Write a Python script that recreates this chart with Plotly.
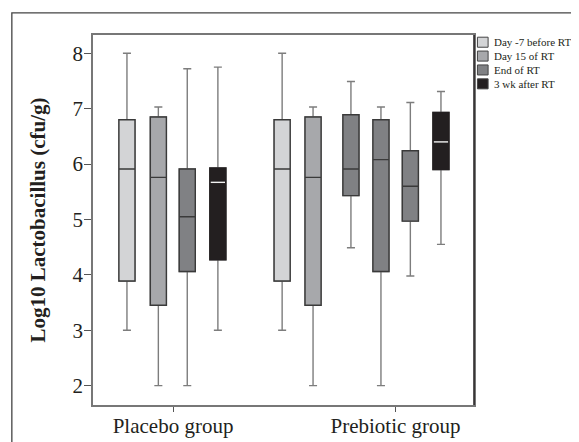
import plotly.graph_objects as go

# ---- data ----
group_labels = ["Placebo group", "Prebiotic group"]
phase_names = ["Day -7 before RT", "Day 15 of RT", "End of RT", "3 wk after RT"]

# one entry per box, in drawing order
box_group = [0, 0, 0, 0, 1, 1, 1, 1, 1, 1]
box_phase = [0, 1, 2, 3, 0, 1, 2, 2, 2, 3]
upper_whisker = [8.00, 7.03, 7.72, 7.75, 8.00, 7.03, 7.49, 7.03, 7.11, 7.31]
q3_values     = [6.80, 6.85, 5.91, 5.93, 6.80, 6.85, 6.89, 6.80, 6.24, 6.93]
median_values = [5.91, 5.76, 5.05, 5.67, 5.91, 5.76, 5.91, 6.08, 5.60, 6.40]
q1_values     = [3.89, 3.45, 4.06, 4.27, 3.89, 3.45, 5.43, 4.06, 4.97, 5.90]
lower_whisker = [3.00, 2.00, 2.00, 3.00, 3.00, 2.00, 4.49, 2.00, 3.98, 4.55]

y_ticks = [2, 3, 4, 5, 6, 7, 8]

# ---- layout / style constants ----
BOX_SLOTS = [0.0, 1.036, 1.99, 3.0, 5.12, 6.14, 7.39, 8.38, 9.35, 10.36]
GROUP_TICK_POS = [1.52, 8.86]
BOX_W = 0.53
fills = ["#d3d4d6", "#a7a8ab", "#808184", "#231f20"]
outline = ["#3a3a3a", "#3a3a3a", "#3a3a3a", "#231f20"]
whisker_col = "#7d7d7d"
FONT = "Liberation Serif"

fig = go.Figure()
for i in range(len(box_phase)):
    p = box_phase[i]
    x = BOX_SLOTS[i]
    # whiskers (gray)
    fig.add_trace(go.Box(
        x=[x], q1=[q1_values[i]], median=[median_values[i]], q3=[q3_values[i]],
        lowerfence=[lower_whisker[i]], upperfence=[upper_whisker[i]],
        width=BOX_W, whiskerwidth=0.5, fillcolor=fills[p],
        line=dict(color=whisker_col, width=1.4),
        showlegend=False, hoverinfo="skip", boxpoints=False,
        name=group_labels[box_group[i]] + " - " + phase_names[p]))
    # box body with darker outline
    fig.add_trace(go.Box(
        x=[x], q1=[q1_values[i]], median=[median_values[i]], q3=[q3_values[i]],
        lowerfence=[q1_values[i]], upperfence=[q3_values[i]],
        width=BOX_W, whiskerwidth=0, fillcolor=fills[p],
        line=dict(color=outline[p], width=1.4),
        showlegend=False, hoverinfo="skip", boxpoints=False,
        name=group_labels[box_group[i]] + " - " + phase_names[p]))
    if p == 3:
        # white median line on black box
        fig.add_trace(go.Scatter(
            x=[x - BOX_W / 2 + 0.03, x + BOX_W / 2 - 0.03],
            y=[median_values[i], median_values[i]],
            mode="lines", line=dict(color="#f2f2f2", width=1.4),
            showlegend=False, hoverinfo="skip"))

# manual legend (compact, like the reference)
L_X0, L_X1, L_TX = 1.009, 1.037, 1.047
L_Y0, L_DY, L_H = 0.9805, 0.0375, 0.0271
shapes = []
annotations = []
for k, nm in enumerate(phase_names):
    yc = L_Y0 - k * L_DY
    shapes.append(dict(type="rect", xref="paper", yref="paper",
                       x0=L_X0, x1=L_X1, y0=yc - L_H / 2, y1=yc + L_H / 2,
                       fillcolor=fills[k], line=dict(color="#444444", width=1)))
    annotations.append(dict(text=nm, xref="paper", yref="paper", x=L_TX, y=yc,
                            xanchor="left", yanchor="middle", showarrow=False,
                            font=dict(family=FONT, size=11, color="#231f20")))

# outer frame (extends past the window on right and bottom)
shapes.append(dict(type="rect", xref="paper", yref="paper",
                   x0=-0.213, x1=1.6, y0=-0.3, y1=1.0596,
                   line=dict(color="#444444", width=1.3), fillcolor="rgba(0,0,0,0)",
                   layer="below"))
# darker right border of the plot area
shapes.append(dict(type="line", xref="paper", yref="paper", x0=1, x1=1, y0=0, y1=1,
                   line=dict(color="#231f20", width=1.5)))

fig.update_layout(
    width=579, height=442,
    margin=dict(l=85, r=113, t=27, b=45, autoexpand=False),
    paper_bgcolor="white", plot_bgcolor="white",
    showlegend=False,
    shapes=shapes, annotations=annotations,
    font=dict(family=FONT, color="#231f20"),
)
fig.update_xaxes(
    range=[-1.12, 11.45], tickmode="array", tickvals=GROUP_TICK_POS, ticktext=group_labels,
    ticks="outside", ticklen=5, tickcolor="#555555", tickwidth=1, automargin=False,
    ticklabelstandoff=-4,
    showline=True, linecolor="#777777", linewidth=1.5, mirror=True,
    showgrid=False, zeroline=False, tickfont=dict(family=FONT, size=21, color="#231f20"))
fig.update_yaxes(
    range=[1.65, 8.33], tickmode="array", tickvals=y_ticks, automargin=False,
    ticks="outside", ticklen=7, tickcolor="#555555", tickwidth=1,
    ticklabelstandoff=-3,
    showline=True, linecolor="#777777", linewidth=1.5, mirror=True,
    showgrid=False, zeroline=False, tickfont=dict(family=FONT, size=21, color="#231f20"),
    title=dict(text="<b>Log10 Lactobacillus (cfu/g)</b>", standoff=21,
               font=dict(family=FONT, size=21, color="#231f20")))

fig.write_html("out.html")
